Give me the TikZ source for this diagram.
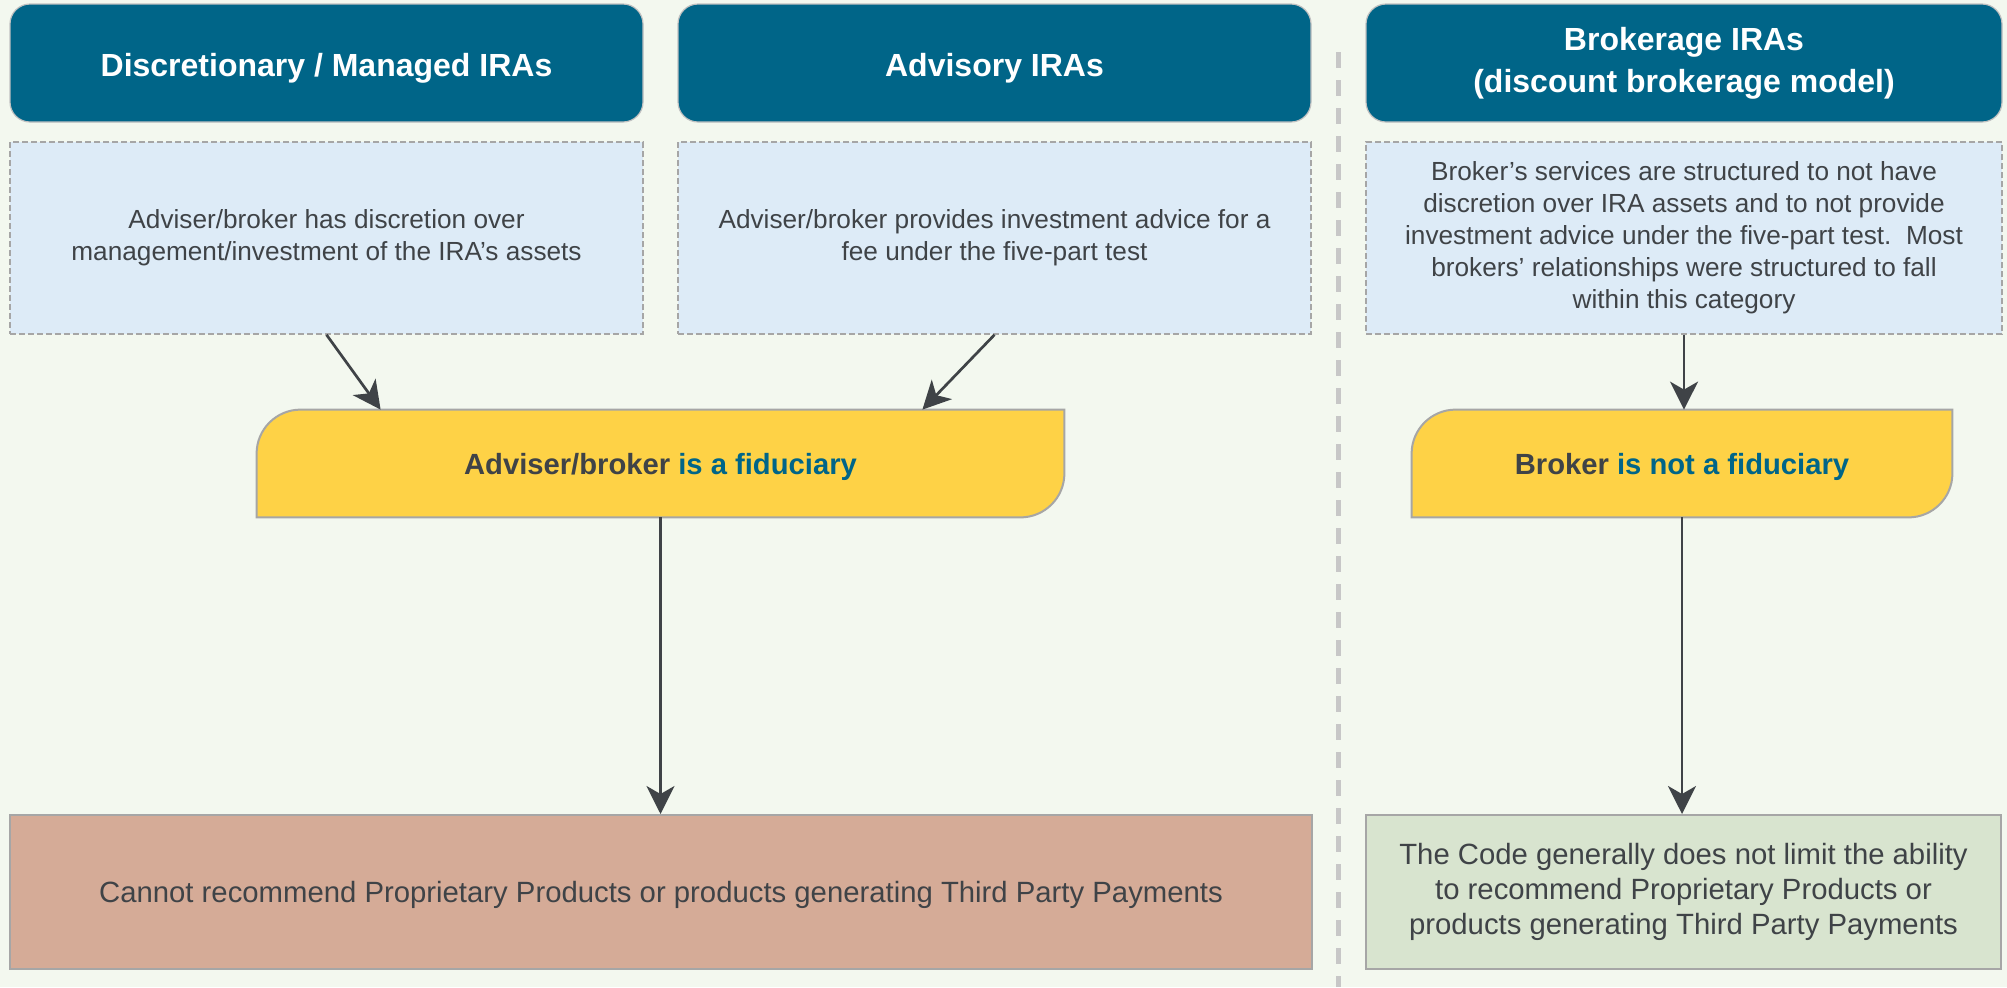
\documentclass[tikz,border=0pt]{standalone}
\usepackage{fontspec}
\setmainfont{Liberation Sans}
\usepackage{xcolor}
\usepackage{tikz}
\usetikzlibrary{arrows.meta,backgrounds}

\definecolor{pagebg}{HTML}{F3F8EF}
\definecolor{headteal}{HTML}{006588}
\definecolor{descblue}{HTML}{DDEBF7}
\definecolor{fidyellow}{HTML}{FED246}
\definecolor{nogood}{HTML}{D5AB97}
\definecolor{okgreen}{HTML}{D8E4CF}
\definecolor{txtgray}{HTML}{3F4347}
\definecolor{edgegray}{HTML}{A6A6A6}

\tikzset{
    header/.style={fill=headteal, draw=edgegray!70, line width=0.6pt, rounded corners=10pt,
        text=white, font=\fontsize{16}{21}\selectfont\bfseries, align=center, inner sep=0pt,
        execute at begin node={\rule{0pt}{16.5pt}}},
    desc/.style={fill=descblue, draw=edgegray, dash pattern=on 3pt off 1.5pt, line width=0.75pt,
        text=txtgray, font=\fontsize{13.1}{16}\selectfont, align=center, inner sep=0pt,
        execute at begin node={\rule{0pt}{16.5pt}}},
    fid/.style={text=txtgray, font=\fontsize{14.6}{17}\selectfont\bfseries, inner sep=0pt,
        execute at begin node={\rule{0pt}{14pt}}},
    fidshape/.style={fill=fidyellow, draw=edgegray, line width=1pt},
    result/.style={draw=edgegray, line width=1pt, text=txtgray,
        font=\fontsize{14.65}{17.3}\selectfont, align=center, inner sep=0pt,
        execute at begin node={\rule{0pt}{14pt}}},
    link/.style={draw=txtgray, line width=1.35pt, -{Stealth[length=14pt,width=14pt,inset=4pt]}},
    sepline/.style={draw=black!22, line width=2.5pt, dash pattern=on 8pt off 6pt},
}

\begin{document}
\begin{tikzpicture}[x=0.5pt, y=-0.5pt]
        \useasboundingbox (0,0) rectangle (2007,987);

        \node[header, minimum width=316.5pt, minimum height=59pt] (hdisc) at (326.5,63) {Discretionary / Managed IRAs};
        \node[header, minimum width=316.5pt, minimum height=59pt] (hadv) at (994.5,63) {Advisory IRAs};
        \node[header, minimum width=318pt, minimum height=59pt] (hbrok) at (1684,63) {Brokerage IRAs\\(discount brokerage model)};

        \node[desc, minimum width=316.5pt, minimum height=96pt] (ddisc) at (326.5,238)
            {Adviser/broker has discretion over\\management/investment of the IRA’s assets};
        \node[desc, minimum width=316.5pt, minimum height=96pt] (dadv) at (994.5,238)
            {Adviser/broker provides investment advice for a\\fee under the five-part test};
        \node[desc, minimum width=318pt, minimum height=96pt] (dbrok) at (1684,238)
            {Broker’s services are structured to not have\\discretion over IRA assets and to not provide\\investment advice under the five-part test.\ \ Most\\brokers’ relationships were structured to fall\\within this category};

        \node[fid, minimum width=403.5pt, minimum height=53.5pt] (fidadv) at (660.5,463.5)
            {Adviser/broker \textcolor{headteal}{is a fiduciary}};
        \node[fid, minimum width=270pt, minimum height=53.5pt] (fidbrok) at (1682,463.5)
            {Broker \textcolor{headteal}{is not a fiduciary}};

        \node[result, fill=nogood, minimum width=651pt, minimum height=77pt] (rno) at (661,892)
            {Cannot recommend Proprietary Products or products generating Third Party Payments};
        \node[result, fill=okgreen, minimum width=317.5pt, minimum height=77pt] (rok) at (1683.5,892)
            {The Code generally does not limit the ability\\to recommend Proprietary Products or\\products generating Third Party Payments};

        \coordinate (septop) at (1338,52);
        \coordinate (sepbot) at (1338,987);
        \path[sepline] (septop) -- (sepbot);

        \path[link] (ddisc.south) -- ([xshift=62pt]fidadv.north west);
        \path[link] (dadv.south) -- ([xshift=-71pt]fidadv.north east);
        \path[link] (fidadv.south) -- (fidadv.south |- rno.north);
        \path[link] (dbrok.south) -- (dbrok.south |- fidbrok.north);
        \path[link] (fidbrok.south) -- (fidbrok.south |- rok.north);

        \begin{scope}[on background layer]
            \fill[pagebg] (0,0) rectangle (2007,987);
            \foreach \n in {fidadv,fidbrok}{
                \path[fidshape] ([xshift=22pt]\n.north west) -- (\n.north east)
                    -- ([yshift=22pt]\n.south east) arc[start angle=0, end angle=-90, radius=22pt]
                    -- (\n.south west) -- ([yshift=-22pt]\n.north west)
                    arc[start angle=180, end angle=90, radius=22pt] -- cycle;
            }
        \end{scope}
    \end{tikzpicture}
\end{document}
